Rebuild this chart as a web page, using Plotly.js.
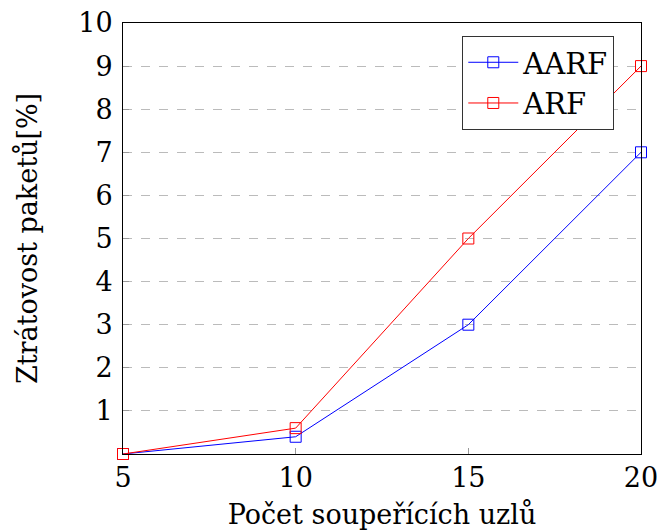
<!DOCTYPE html>
<html><head><meta charset="utf-8">
<script src="https://cdn.plot.ly/plotly-3.0.1.min.js"></script>
<style>html,body{margin:0;padding:0;background:#fff}</style>
</head><body>
<div id="chart" style="width:657px;height:531px"></div>
<script>
const nodes = [5, 10, 15, 20];
const aarfLoss = [0, 0.4, 3, 7];
const arfLoss = [0, 0.6, 5, 9];
const yTicks = [1, 2, 3, 4, 5, 6, 7, 8, 9, 10];
const xTicks = [5, 10, 15, 20];

const font = "'DejaVu Serif', serif";
const traces = [
  {x: nodes, y: aarfLoss, name: 'AARF', mode: 'lines+markers', cliponaxis: false,
   line: {color: '#0000ff', width: 1},
   marker: {symbol: 'square-open', size: 11, color: '#0000ff', line: {width: 1}}},
  {x: nodes, y: arfLoss, name: 'ARF', mode: 'lines+markers', cliponaxis: false,
   line: {color: '#ff0000', width: 1},
   marker: {symbol: 'square-open', size: 11, color: '#ff0000', line: {width: 1}}}
];
const layout = {
  width: 657, height: 531,
  margin: {l: 123, r: 16, t: 23, b: 77},
  paper_bgcolor: '#fff', plot_bgcolor: '#fff',
  font: {family: font, size: 27, color: '#000'},
  showlegend: true,
  legend: {x: 0.655, y: 0.97, xanchor: 'left', yanchor: 'top',
    bordercolor: '#333', borderwidth: 1, bgcolor: '#fff',
    font: {family: font, size: 29}, tracegroupgap: 0, itemwidth: 50},
  xaxis: {range: [5, 20], tickvals: xTicks, ticktext: xTicks.map(String),
    showgrid: false, zeroline: false, showline: true, linecolor: '#000', linewidth: 1,
    mirror: true, ticks: 'inside', ticklen: 6, tickcolor: '#999',
    tickfont: {family: font, size: 27}, ticklabelstandoff: 0, ticklabeloverflow: 'allow',
    title: {text: 'Počet soupeřících uzlů', font: {family: font, size: 27}, standoff: 12}},
  yaxis: {range: [0, 10], tickvals: yTicks, ticktext: yTicks.map(String),
    showgrid: true, gridcolor: '#bbb', griddash: 'dash', gridwidth: 1,
    zeroline: false, showline: true, linecolor: '#000', linewidth: 1,
    mirror: true, ticks: 'inside', ticklen: 6, tickcolor: '#999',
    tickfont: {family: font, size: 27}, ticklabelstandoff: 4, ticklabeloverflow: 'allow',
    title: {text: 'Ztrátovost paketů[%]', font: {family: font, size: 27}, standoff: 32}}
};
Plotly.newPlot('chart', traces, layout, {displayModeBar: false, staticPlot: true});
</script>
</body></html>
